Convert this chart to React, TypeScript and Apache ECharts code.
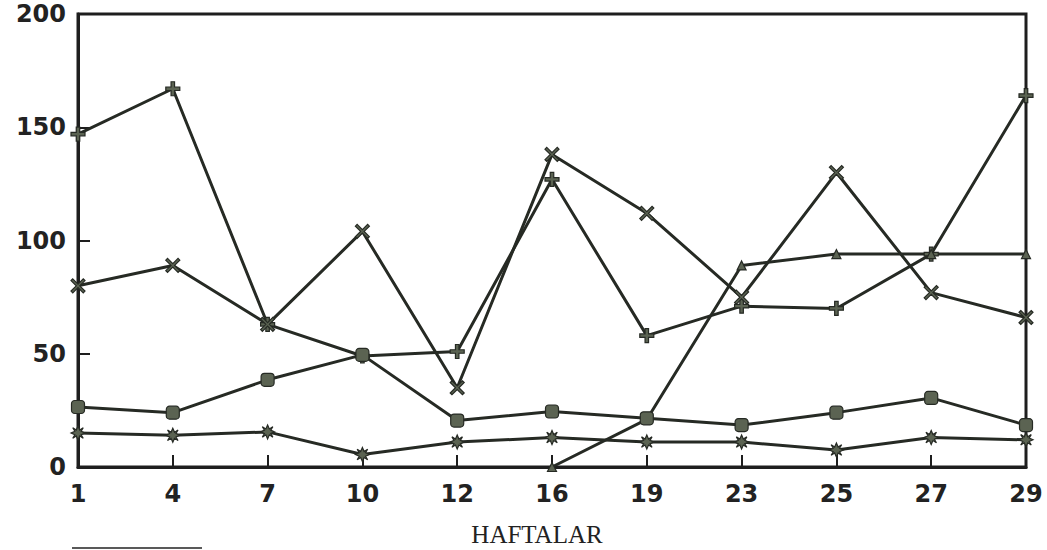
import React, { useEffect, useRef } from "react";
import * as echarts from "echarts";

const weeks = ["1", "4", "7", "10", "12", "16", "19", "23", "25", "27", "29"];
const yTicks = [0, 50, 100, 150, 200];

const plusSeries = [147, 167, 63, 49, 51, 127, 58, 71, 70, 94, 164];
const crossSeries = [80, 89, 63, 104, 35, 138, 112, 75, 130, 77, 66];
const lateSeries: (number | null)[] = [null, null, null, null, null, 0, 21, 89, 94, 94, 94];
const squareSeries = [26.5, 24, 38.5, 49.5, 20.5, 24.5, 21.5, 18.5, 24, 30.5, 18.5];
const starSeries = [15, 14, 15.5, 5.5, 11, 13, 11, 11, 7.5, 13, 12];

const xAxisTitle = "HAFTALAR";

const LINE = "#262a24";
const FILL = "#5b6352";

const PLUS = "path://M3,0H5V3H8V5H5V8H3V5H0V3H3Z";
const CROSS = "path://M1,0L4,3L7,0L8,1L5,4L8,7L7,8L4,5L1,8L0,7L3,4L0,1Z";
const STAR = "path://M4,0L5,2.3L7,1L5.8,3L8,4L5.8,5L7,7L5,5.7L4,8L3,5.7L1,7L2.2,5L0,4L2.2,3L1,1L3,2.3Z";

export default function App() {
  const ref = useRef<HTMLDivElement>(null);
  useEffect(() => {
    if (!ref.current) return;
    const chart = echarts.init(ref.current, undefined, { renderer: "svg" });
    const mk = (data: (number | null)[], symbol: string, size: number) => ({
      type: "line",
      data,
      symbol,
      symbolSize: size,
      showAllSymbol: true,
      lineStyle: { color: LINE, width: 3 },
      itemStyle: { color: FILL, borderColor: LINE, borderWidth: 1.2 },
      connectNulls: false,
    });
    chart.setOption({
      animation: false,
      backgroundColor: "#ffffff",
      grid: {
        left: 78,
        right: 21,
        top: 14,
        bottom: 83,
        show: true,
        borderColor: "#1e1e1e",
        borderWidth: 3,
      },
      xAxis: {
        type: "category",
        data: weeks,
        boundaryGap: false,
        axisLine: { lineStyle: { color: "#1e1e1e", width: 3 } },
        axisTick: { inside: true, length: 12, alignWithLabel: true, lineStyle: { color: "#1e1e1e", width: 2 } },
        axisLabel: {
          margin: 15,
          fontFamily: "DejaVu Sans",
          fontWeight: "bold",
          fontSize: 24,
          color: "#222",
        },
        splitLine: { show: false },
      },
      yAxis: {
        type: "value",
        min: yTicks[0],
        max: yTicks[yTicks.length - 1],
        interval: 50,
        axisLine: { show: true, lineStyle: { color: "#1e1e1e", width: 3 } },
        axisTick: { show: true, inside: true, length: 12, lineStyle: { color: "#1e1e1e", width: 2 } },
        axisLabel: {
          margin: 12,
          fontFamily: "DejaVu Sans",
          fontWeight: "bold",
          fontSize: 24,
          color: "#222",
        },
        splitLine: { show: false },
      },
      series: [
        mk(plusSeries, PLUS, 14),
        mk(crossSeries, CROSS, 14),
        mk(lateSeries, "triangle", 9),
        mk(squareSeries, "roundRect", 13),
        mk(starSeries, STAR, 14),
      ],
      graphic: [
        {
          type: "text",
          x: 537,
          y: 534,
          style: {
            text: xAxisTitle,
            fontFamily: "Liberation Serif",
            fontSize: 25,
            fill: "#222",
            align: "center",
            verticalAlign: "middle",
          },
        },
        {
          type: "line",
          shape: { x1: 72, y1: 548, x2: 202, y2: 548 },
          style: { stroke: "#222", lineWidth: 1.5 },
        },
      ],
    });
    return () => chart.dispose();
  }, []);
  return <div ref={ref} style={{ width: 1047, height: 550, position: "absolute", left: 0, top: 0 }} />;
}
